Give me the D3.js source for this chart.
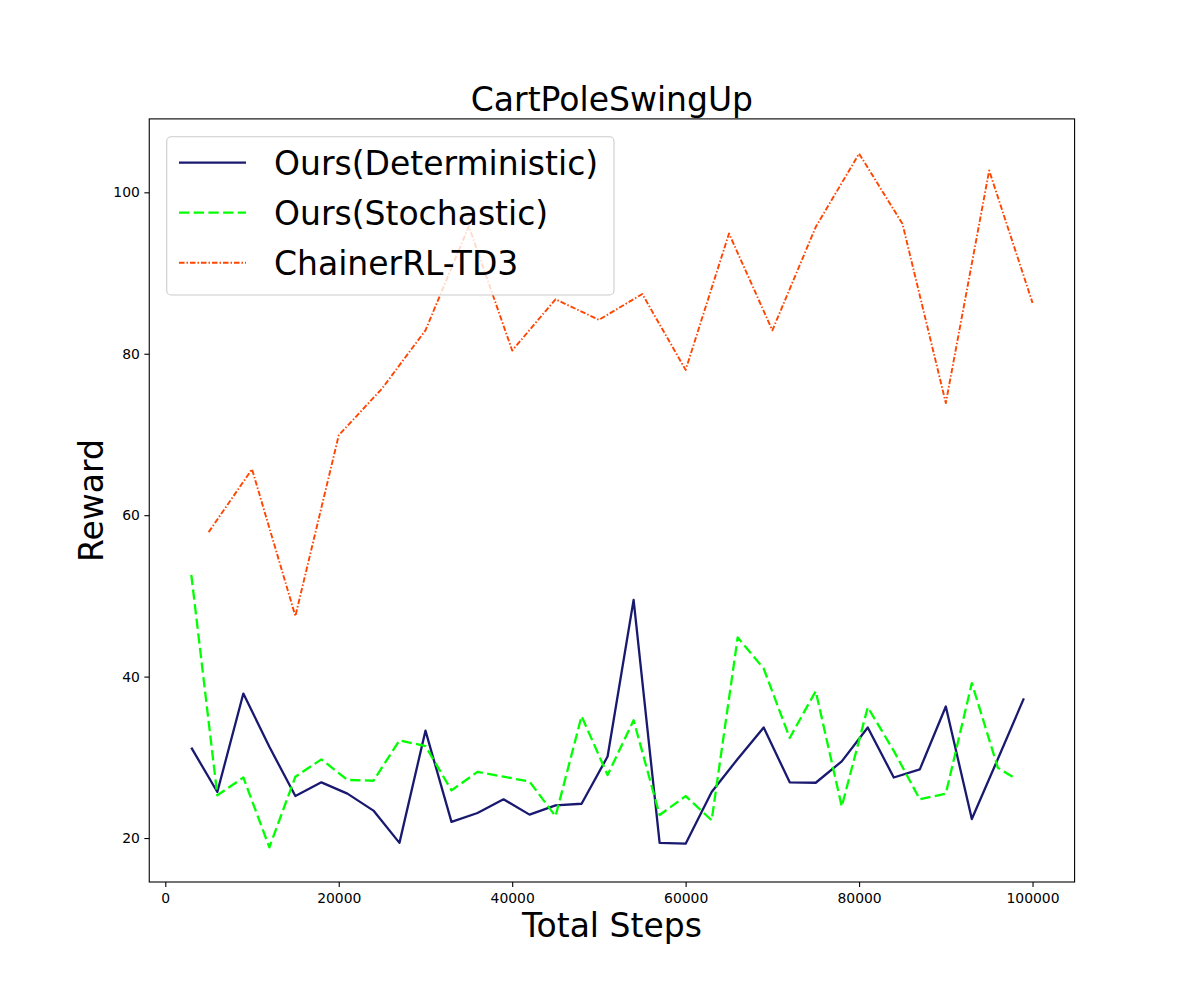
<!DOCTYPE html>
<html>
<head>
<meta charset="utf-8">
<script src="https://cdn.jsdelivr.net/npm/d3@7"></script>
<style>
  html, body { margin: 0; padding: 0; background: #fff; }
  svg { display: block; font-family: "DejaVu Sans", sans-serif; }
</style>
</head>
<body>
<script>
// steps at which each run was evaluated
var detSteps = [3000, 6000, 9000, 12000, 15000, 18000, 21000, 24000, 27000, 30000, 33000,
  36000, 39000, 42000, 45000, 48000, 51000, 54000, 57000, 60000, 63000, 66000,
  69000, 72000, 75000, 78000, 81000, 84000, 87000, 90000, 93000, 96000, 99000];
var detReward = [31.2, 25.7, 37.9, 31.3, 25.2, 26.9, 25.5, 23.4, 19.4, 33.3, 22.0,
  23.1, 24.8, 22.9, 24.05, 24.25, 30.1, 49.5, 19.4, 19.3, 25.7, 29.8,
  33.7, 26.9, 26.85, 29.5, 33.7, 27.5, 28.5, 36.3, 22.35, 29.8, 37.3];

var stoSteps = [3000, 6000, 9000, 12000, 15000, 18000, 21000, 24000, 27000, 30000, 33000,
  36000, 39000, 42000, 45000, 48000, 51000, 54000, 57000, 60000, 63000, 66000,
  69000, 72000, 75000, 78000, 81000, 84000, 87000, 90000, 93000, 96000, 98000];
var stoReward = [52.6, 25.3, 27.5, 18.85, 27.6, 29.75, 27.2, 27.1, 32.1, 31.4, 25.9,
  28.2, 27.6, 27.0, 22.7, 35.1, 27.8, 34.6, 22.85, 25.2, 22.2, 44.85,
  41.0, 32.4, 38.2, 23.9, 36.2, 30.8, 24.8, 25.5, 39.2, 28.7, 27.4];

var td3Steps = [5000, 10000, 15000, 20000, 25000, 30000, 35000, 40000, 45000, 50000,
  55000, 60000, 65000, 70000, 75000, 80000, 85000, 90000, 95000, 100000];
var td3Reward = [57.9, 65.7, 47.5, 69.9, 75.7, 82.9, 95.8, 80.4, 86.75, 84.2,
  87.4, 78.0, 94.9, 82.9, 95.7, 104.8, 96.1, 73.9, 102.7, 86.3];

var xTicks = [0, 20000, 40000, 60000, 80000, 100000];
var yTicks = [20, 40, 60, 80, 100];

var seriesNames = ['Ours(Deterministic)', 'Ours(Stochastic)', 'ChainerRL-TD3'];

var W = 1194, H = 991;
var axL = 149.25, axR = 1074.6, axT = 118.9, axB = 882;

var series = [
  {name: seriesNames[0], xs: detSteps, ys: detReward, color: '#191970', width: 2.3, dash: null},
  {name: seriesNames[1], xs: stoSteps, ys: stoReward, color: '#00ff00', width: 2.3, dash: '10.3,4.4'},
  {name: seriesNames[2], xs: td3Steps, ys: td3Reward, color: '#ff4500', width: 1.9, dash: '5.5,2,1.5,2'}
];

// matplotlib style 5% margins
function padded(vals) {
  var lo = d3.min(vals), hi = d3.max(vals), m = (hi - lo) * 0.05;
  return [lo - m, hi + m];
}

var allX = [].concat(detSteps, stoSteps, td3Steps);
var allY = [].concat(detReward, stoReward, td3Reward);

var x = d3.scaleLinear().domain(padded(allX)).range([axL, axR]);
var y = d3.scaleLinear().domain(padded(allY)).range([axB, axT]);

var svg = d3.select('body').append('svg')
  .attr('width', W)
  .attr('height', H);

svg.append('rect').attr('width', W).attr('height', H).attr('fill', '#fff');

svg.append('defs').append('clipPath').attr('id', 'plot')
  .append('rect')
  .attr('x', axL).attr('y', axT)
  .attr('width', axR - axL).attr('height', axB - axT);

var line = d3.line()
  .x(function(d) { return x(d[0]); })
  .y(function(d) { return y(d[1]); });

var plot = svg.append('g').attr('clip-path', 'url(#plot)');

series.forEach(function(s) {
  var pts = s.xs.map(function(v, i) { return [v, s.ys[i]]; });
  plot.append('path')
    .datum(pts)
    .attr('d', line)
    .attr('fill', 'none')
    .attr('stroke', s.color)
    .attr('stroke-width', s.width)
    .attr('stroke-linejoin', 'round')
    .attr('stroke-dasharray', s.dash);
});

// axes
var xAxis = d3.axisBottom(x).tickValues(xTicks).tickFormat(d3.format('d'))
  .tickSize(4.9).tickPadding(6.3).tickSizeOuter(0);
var yAxis = d3.axisLeft(y).tickValues(yTicks).tickFormat(d3.format('d'))
  .tickSize(4.9).tickPadding(4.5).tickSizeOuter(0);

var gx = svg.append('g').attr('transform', 'translate(0,' + axB + ')').call(xAxis);
var gy = svg.append('g').attr('transform', 'translate(' + axL + ',0)').call(yAxis);

[gx, gy].forEach(function(g) {
  g.select('.domain').remove();
  g.selectAll('line').attr('stroke', '#000').attr('stroke-width', 1.1);
  g.selectAll('text')
    .attr('fill', '#000')
    .style('font-family', '"DejaVu Sans", sans-serif')
    .style('font-size', '13.9px');
});

// frame
svg.append('rect')
  .attr('x', axL).attr('y', axT)
  .attr('width', axR - axL).attr('height', axB - axT)
  .attr('fill', 'none')
  .attr('stroke', '#000')
  .attr('stroke-width', 1.1);

// title and labels
svg.append('text')
  .attr('x', (axL + axR) / 2).attr('y', 111)
  .attr('text-anchor', 'middle')
  .style('font-size', '33px')
  .text('CartPoleSwingUp');

svg.append('text')
  .attr('x', (axL + axR) / 2).attr('y', 937)
  .attr('text-anchor', 'middle')
  .style('font-size', '33px')
  .text('Total Steps');

svg.append('text')
  .attr('transform', 'translate(103,' + (axT + axB) / 2 + ') rotate(-90)')
  .attr('text-anchor', 'middle')
  .style('font-size', '33px')
  .text('Reward');

// legend
var leg = svg.append('g');
leg.append('rect')
  .attr('x', 166.7).attr('y', 136.7)
  .attr('width', 447.3).attr('height', 158.3)
  .attr('rx', 4.5)
  .attr('fill', '#fff').attr('fill-opacity', 0.8)
  .attr('stroke', '#cccccc').attr('stroke-width', 1.1);

series.forEach(function(s, i) {
  var cy = 162.7 + i * 50;
  leg.append('line')
    .attr('x1', 179).attr('x2', 246)
    .attr('y1', cy).attr('y2', cy)
    .attr('stroke', s.color)
    .attr('stroke-width', s.width)
    .attr('stroke-dasharray', s.dash);
  leg.append('text')
    .attr('x', 274).attr('y', 175 + i * 50)
    .style('font-size', '33px')
    .text(s.name);
});
</script>
</body>
</html>
